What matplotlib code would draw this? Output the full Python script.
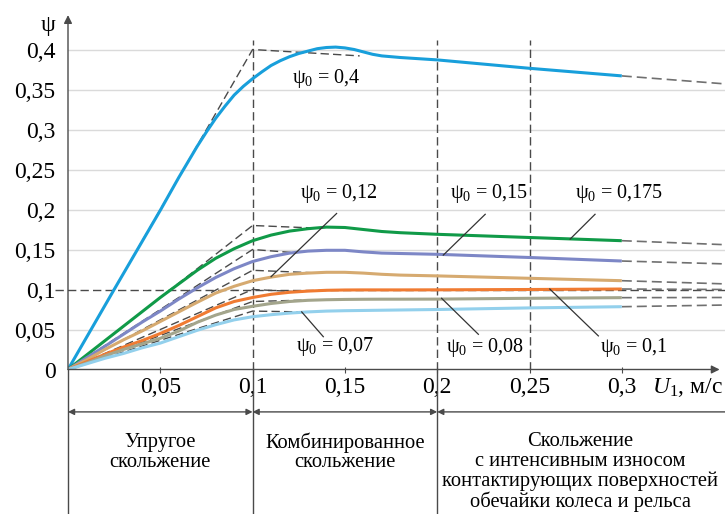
import matplotlib.pyplot as plt

plt.rcParams["font.family"] = ["Liberation Serif", "DejaVu Serif"]
plt.rcParams["mathtext.fontset"] = "custom"
plt.rcParams["mathtext.rm"] = "Liberation Serif"
plt.rcParams["mathtext.it"] = "Liberation Serif:italic"

# curves (U1, psi)
blue_x = [0, 0.025, 0.05, 0.06, 0.07, 0.075, 0.08, 0.085, 0.09, 0.095, 0.1, 0.105, 0.11,
          0.115, 0.12, 0.125, 0.13, 0.135, 0.14, 0.145, 0.15, 0.155, 0.16, 0.165, 0.17,
          0.18, 0.2, 0.25, 0.3]
blue_y = [0, 0.1, 0.199, 0.24, 0.279, 0.297, 0.314, 0.329, 0.343, 0.354, 0.3635, 0.372,
          0.380, 0.386, 0.391, 0.395, 0.398, 0.401, 0.4025, 0.403, 0.402, 0.400, 0.397,
          0.394, 0.392, 0.390, 0.387, 0.3765, 0.367]

u = [0, 0.01, 0.02, 0.03, 0.04, 0.05, 0.06, 0.07, 0.08, 0.09, 0.1, 0.11, 0.12, 0.13,
     0.14, 0.15, 0.16, 0.17, 0.18, 0.2, 0.25, 0.3]
green_y = [0, 0.018, 0.036, 0.054, 0.072, 0.090, 0.107, 0.124, 0.139, 0.151, 0.161, 0.168,
           0.173, 0.176, 0.178, 0.1775, 0.175, 0.1725, 0.171, 0.169, 0.165, 0.161]
violet_y = [0, 0.0145, 0.029, 0.044, 0.059, 0.073, 0.088, 0.102, 0.115, 0.126, 0.135, 0.141,
            0.1455, 0.148, 0.149, 0.149, 0.147, 0.1455, 0.145, 0.144, 0.140, 0.1356]
tan_y = [0, 0.012, 0.025, 0.037, 0.048, 0.060, 0.072, 0.084, 0.0955, 0.104, 0.111, 0.1155,
         0.119, 0.1205, 0.1215, 0.1215, 0.1205, 0.119, 0.118, 0.117, 0.114, 0.111]
orange_y = [0, 0.0095, 0.019, 0.028, 0.036, 0.045, 0.055, 0.066, 0.077, 0.085, 0.090, 0.094,
            0.0965, 0.098, 0.099, 0.0994, 0.0995, 0.0995, 0.0995, 0.0996, 0.100, 0.1006]
gray_y = [0, 0.008, 0.017, 0.025, 0.032, 0.039, 0.048, 0.059, 0.068, 0.075, 0.079, 0.0825,
          0.085, 0.0865, 0.0872, 0.0876, 0.0878, 0.0879, 0.0879, 0.088, 0.089, 0.0898]
light_y = [0, 0.007, 0.014, 0.020, 0.027, 0.033, 0.041, 0.049, 0.056, 0.062, 0.066, 0.0685,
           0.0705, 0.072, 0.073, 0.0735, 0.0738, 0.0741, 0.0744, 0.075, 0.077, 0.0785]

# dashed continuation beyond 0.3 (value at right edge)
x_edge = 0.356
edge_y = [0.357, 0.156, 0.132, 0.107, 0.100, 0.090, 0.0806]

# dashed tangents: corner value at U1 = 0.1 and where they rejoin the curve
corner_y = [0.40, 0.18, 0.15, 0.124, 0.1, 0.085, 0.073]
rejoin = [(0.158, 0.392), (0.132, 0.177), (0.123, 0.146), (0.132, 0.121),
          (0.127, 0.097), (0.132, 0.087), (0.127, 0.072)]

colors = ["#189fdb", "#109a48", "#7d87c6", "#d6aa70", "#f07b32", "#a3a58c", "#93d0ec"]
curves = [(blue_x, blue_y), (u, green_y), (u, violet_y), (u, tan_y),
          (u, orange_y), (u, gray_y), (u, light_y)]

xticks = [0.05, 0.1, 0.15, 0.2, 0.25, 0.3]
xtick_labels = ["0,05", "0,1", "0,15", "0,2", "0,25", "0,3"]
yticks = [0, 0.05, 0.1, 0.15, 0.2, 0.25, 0.3, 0.35, 0.4]
ytick_labels = ["0", "0,05", "0,1", "0,15", "0,2", "0,25", "0,3", "0,35", "0,4"]

# labels: text, text position, leader line (from, to) or None
labels = [
    ("0,4", (0.1213, 0.364), None),
    ("0,12", (0.1257, 0.2206), ((0.1455, 0.195), (0.110, 0.116))),
    ("0,15", (0.207, 0.2206), ((0.226, 0.194), (0.2033, 0.143))),
    ("0,175", (0.2746, 0.2206), ((0.2855, 0.194), (0.272, 0.163))),
    ("0,07", (0.1235, 0.029), ((0.1383, 0.041), (0.1266, 0.072))),
    ("0,08", (0.2048, 0.027), ((0.2223, 0.044), (0.2024, 0.089))),
    ("0,1", (0.288, 0.027), ((0.2873, 0.042), (0.261, 0.1006))),
]

zones = [
    (0.05, -0.1035, "Упругое\nскольжение"),
    (0.15, -0.1035, "Комбинированное\nскольжение"),
    (0.2774, -0.1285, "Скольжение\nс интенсивным износом\nконтактирующих поверхностей\nобечайки колеса и рельса"),
]

dark = "#4a4a4a"
fig = plt.figure(figsize=(7.25, 5.14), dpi=100)
ax = fig.add_axes([68 / 725, (514 - 369.5) / 514, 657 / 725, 354.5 / 514])
ax.set_xlim(0, 657 / 1846)
ax.set_ylim(0, 354.5 / 800)
for s in ax.spines.values():
    s.set_visible(False)

# grid
for y in yticks[1:]:
    if y == 0.1:
        ax.plot([-0.007, x_edge], [y, y], color=dark, lw=1, ls=(0, (6, 3)), clip_on=False, zorder=1)
    else:
        ax.axhline(y, color="#dadada", lw=1, zorder=0)
for x in [0.1, 0.2, 0.25]:
    ax.plot([x, x], [0, 0.412], color=dark, lw=1, ls=(0, (6, 3)), zorder=1)

# tangents
for c, (rx, ry) in zip(corner_y, rejoin):
    ax.plot([0, 0.1, rx], [0, c, ry], color=dark, lw=1, ls=(0, (6, 3)), zorder=2)

# curves and their dashed ends
for (cx, cy), col, ey in zip(curves, colors, edge_y):
    ax.plot(cx, cy, color=col, lw=2.2, zorder=3, solid_capstyle="butt")
    ax.plot([cx[-1], x_edge], [cy[-1], ey], color="#707070", lw=1.2, ls=(0, (6, 3)), zorder=2)

# labels with leaders
for val, (tx, ty), leader in labels:
    ax.text(tx, ty, r"$\mathrm{ψ}_0$ = " + val, fontsize=14.5, ha="left", va="center", zorder=5)
    if leader is not None:
        (x1, y1), (x2, y2) = leader
        ax.plot([x1, x2], [y1, y2], color="#333333", lw=0.9, zorder=4)

# axes with arrows
ax.annotate("", xy=(0, 0.443), xytext=(0, 0), annotation_clip=False,
            arrowprops=dict(arrowstyle="-|>", color=dark, lw=1, mutation_scale=12, shrinkA=0, shrinkB=0))
ax.annotate("", xy=(0.353, 0), xytext=(0, 0), annotation_clip=False,
            arrowprops=dict(arrowstyle="-|>", color=dark, lw=1, mutation_scale=12, shrinkA=0, shrinkB=0))
ax.text(-0.0108, 0.43, "ψ", fontsize=17, ha="center", va="center")

ax.set_xticks(xticks)
ax.set_xticklabels(xtick_labels, fontsize=17)
ax.set_yticks(yticks)
ax.set_yticklabels(ytick_labels, fontsize=17)
ax.tick_params(axis="x", direction="inout", length=5, color=dark, pad=3)
ax.tick_params(axis="y", length=0, pad=9)
ax.text(0.3165, -0.023, r"$U_\mathrm{1}$, м/с", fontsize=17, ha="left", va="center")

# zone markers below the axis
y_bot = -(514 - 369.5) / 800
for x in [0, 0.1, 0.2]:
    ax.plot([x, x], [0, y_bot], color=dark, lw=1, clip_on=False)
y_arr = -0.053
for a, b, style in [(0, 0.1, "<|-|>"), (0.1, 0.2, "<|-|>"), (0.2, 0.3575, "<|-")]:
    ax.annotate("", xy=(b, y_arr), xytext=(a, y_arr), annotation_clip=False,
                arrowprops=dict(arrowstyle=style, color=dark, lw=1, mutation_scale=9, shrinkA=0, shrinkB=0))
for zx, zy, txt in zones:
    ax.text(zx, zy, txt, fontsize=14.8, ha="center", va="center", linespacing=1.05)

fig.savefig("out.png", dpi=100)
